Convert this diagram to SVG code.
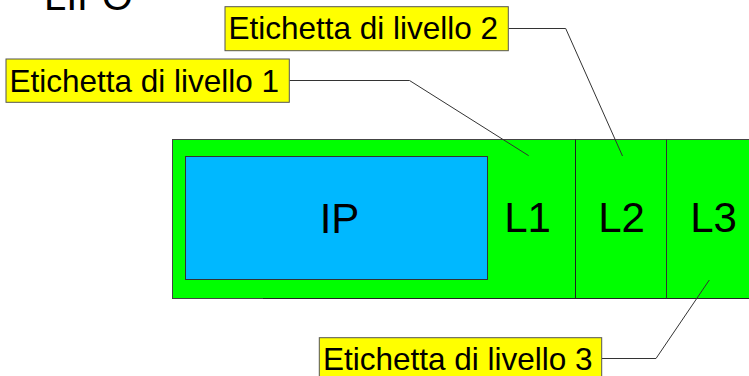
<svg xmlns="http://www.w3.org/2000/svg" width="749" height="376" viewBox="0 0 749 376">
<style>
text{font-family:"Liberation Sans",Arial,sans-serif;fill:#000}
.lbl{fill:#ffff00;stroke:#555;stroke-width:1}
.lt{font-size:31.5px}
.big{font-size:42px;text-anchor:middle}
.conn{fill:none;stroke:#333;stroke-width:1}
</style>
<rect width="749" height="376" fill="#fff"/>
<g id="title"><text x="44" y="10" style="font-size:40px">LIFO</text></g>
<g id="stack">
<rect x="172.5" y="139.5" width="600" height="159" fill="#00ff00" stroke="#444" stroke-width="1"/>
<line x1="263" y1="298.5" x2="749" y2="298.5" stroke="#222" stroke-width="1"/>
<line x1="575.5" y1="139.5" x2="575.5" y2="298.5" stroke="#222" stroke-width="1"/>
<line x1="666.5" y1="139.5" x2="666.5" y2="298.5" stroke="#333" stroke-width="1"/>
</g>
<g id="ip">
<rect x="185.5" y="156.5" width="302" height="123" fill="#00b8ff" stroke="#333" stroke-width="1"/>
<text class="big" x="339.5" y="232.5">IP</text>
</g>
<g id="l1"><text class="big" x="527.5" y="232">L1</text></g>
<g id="l2"><text class="big" x="621.5" y="232">L2</text></g>
<g id="l3"><text class="big" x="713.5" y="232">L3</text></g>
<g id="connectors">
<polyline class="conn" points="289.5,80.5 409.5,80.5 528.7,155.7"/>
<polyline class="conn" points="508.5,28.5 565.7,28.5 622.5,156"/>
<polyline class="conn" points="601.7,358.5 656,358.5 709.3,280"/>
</g>
<g id="label1">
<rect class="lbl" x="6" y="59" width="283.3" height="43.3"/>
<text class="lt" x="9.5" y="91.7">Etichetta di livello 1</text>
</g>
<g id="label2">
<rect class="lbl" x="225" y="6.7" width="283.3" height="44"/>
<text class="lt" x="228.5" y="39.3">Etichetta di livello 2</text>
</g>
<g id="label3">
<rect class="lbl" x="319.3" y="337.7" width="282.4" height="44"/>
<text class="lt" x="323" y="370">Etichetta di livello 3</text>
</g>
</svg>
